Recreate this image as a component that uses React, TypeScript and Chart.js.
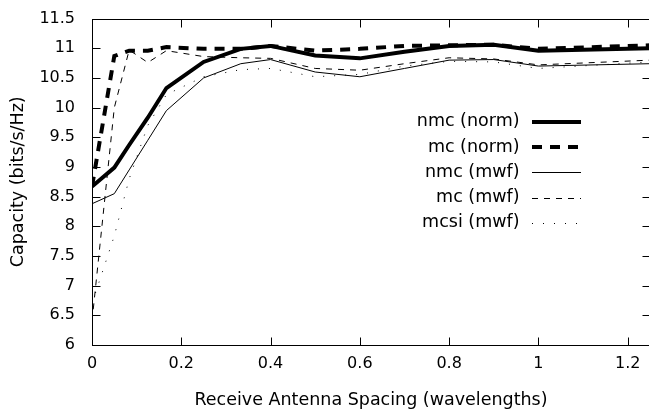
import React, { useEffect, useRef } from "react";
import { Chart, registerables } from "chart.js";

Chart.register(...registerables);

const xValues = [0, 0.05, 0.0833, 0.125, 0.1667, 0.25, 0.3333, 0.4, 0.5, 0.6, 0.7, 0.8, 0.9, 1.0, 1.25];
const nmcNorm = [8.67, 8.99, 9.37, 9.83, 10.33, 10.77, 10.99, 11.04, 10.88, 10.83, 10.94, 11.04, 11.06, 10.96, 11.0];
const mcNorm = [8.67, 10.87, 10.96, 10.96, 11.02, 10.99, 10.99, 11.04, 10.96, 10.99, 11.04, 11.05, 11.06, 10.99, 11.05];
const nmcMwf = [8.38, 8.55, 8.95, 9.45, 9.95, 10.5, 10.74, 10.81, 10.6, 10.52, 10.66, 10.8, 10.81, 10.7, 10.74];
const mcMwf = [6.4, 10.0, 10.97, 10.76, 10.96, 10.86, 10.84, 10.83, 10.66, 10.63, 10.74, 10.84, 10.82, 10.72, 10.8];
const mcsiMwf = [6.7, 7.84, 8.8, 9.7, 10.22, 10.52, 10.64, 10.66, 10.52, 10.56, 10.7, 10.78, 10.77, 10.66, 10.77];

const seriesLabels = ["nmc (norm)", "mc (norm)", "nmc (mwf)", "mc (mwf)", "mcsi (mwf)"];
const xTicks = [0, 0.2, 0.4, 0.6, 0.8, 1, 1.2];
const yTicks = [6, 6.5, 7, 7.5, 8, 8.5, 9, 9.5, 10, 10.5, 11, 11.5];
const xTitle = "Receive Antenna Spacing (wavelengths)";
const yTitle = "Capacity (bits/s/Hz)";

const FONT = "DejaVu Sans";

const styles = [
  { borderWidth: 4, borderDash: [] as number[] },
  { borderWidth: 4, borderDash: [10, 8] },
  { borderWidth: 1, borderDash: [] as number[] },
  { borderWidth: 1, borderDash: [6, 6] },
  { borderWidth: 1, borderDash: [1, 10] },
];

const frameAndLegend = {
  id: "frameAndLegend",
  afterDatasetsDraw(chart: any) {
    const { ctx, chartArea } = chart;
    const { left, right, top, bottom } = chartArea;
    const xs = chart.scales.x;
    const ys = chart.scales.y;
    ctx.save();
    ctx.strokeStyle = "#000";
    ctx.lineWidth = 1;
    ctx.setLineDash([]);
    const L = Math.round(left) + 0.5;
    const R = Math.round(right) + 0.5;
    const T = Math.round(top) + 0.5;
    const B = Math.round(bottom) + 0.5;
    ctx.strokeRect(L, T, R - L, B - T);
    const tl = 8;
    ctx.beginPath();
    xTicks.forEach((v) => {
      const px = Math.round(xs.getPixelForValue(v)) + 0.5;
      ctx.moveTo(px, B);
      ctx.lineTo(px, B - tl);
      ctx.moveTo(px, T);
      ctx.lineTo(px, T + tl);
    });
    yTicks.forEach((v) => {
      const py = Math.round(ys.getPixelForValue(v)) + 0.5;
      ctx.moveTo(L, py);
      ctx.lineTo(L + tl, py);
      ctx.moveTo(R, py);
      ctx.lineTo(R - tl, py);
    });
    ctx.stroke();

    // legend
    ctx.font = `17.5px "${FONT}"`;
    ctx.fillStyle = "#000";
    ctx.textAlign = "right";
    ctx.textBaseline = "middle";
    chart.data.datasets.forEach((ds: any, i: number) => {
      const y = 121.7 + i * 25.3;
      ctx.fillText(ds.label, 519.5, y);
      ctx.beginPath();
      ctx.lineWidth = ds.borderWidth;
      ctx.setLineDash(ds.borderDash || []);
      ctx.lineCap = "butt";
      const ly = ds.borderWidth % 2 === 1 ? Math.round(y) + 0.5 : Math.round(y);
      ctx.moveTo(532, ly);
      ctx.lineTo(581, ly);
      ctx.stroke();
    });
    ctx.restore();
  },
};

export default function App() {
  const ref = useRef<HTMLCanvasElement>(null);
  useEffect(() => {
    const seriesData = [nmcNorm, mcNorm, nmcMwf, mcMwf, mcsiMwf];
    const chart = new Chart(ref.current!, {
      type: "line",
      data: {
        datasets: seriesData.map((vals, i) => ({
          label: seriesLabels[i],
          data: xValues.map((x, j) => ({ x, y: vals[j] })),
          borderColor: "#000",
          borderWidth: styles[i].borderWidth,
          borderDash: styles[i].borderDash,
          pointRadius: 0,
          tension: 0,
          fill: false,
        })),
      },
      options: {
        animation: false,
        responsive: false,
        layout: { padding: { top: 12, right: 10, left: 0, bottom: 0 } },
        plugins: { legend: { display: false }, tooltip: { enabled: false } },
        scales: {
          x: {
            type: "linear",
            min: 0,
            max: 1.25,
            afterBuildTicks: (s: any) => {
              s.ticks = xTicks.map((v) => ({ value: v }));
            },
            afterFit: (s: any) => {
              s.height = 69;
            },
            ticks: {
              font: { family: FONT, size: 16 },
              color: "#000",
              padding: 1,
              maxRotation: 0,
              autoSkip: false,
              callback: (v: any) => String(v),
            },
            grid: { display: false },
            border: { display: false },
            title: {
              display: true,
              text: xTitle,
              font: { family: FONT, size: 17.5 },
              color: "#000",
              padding: { top: 0, bottom: 3 },
            },
          },
          y: {
            type: "linear",
            min: 6,
            max: 11.5,
            afterBuildTicks: (s: any) => {
              s.ticks = yTicks.map((v) => ({ value: v }));
            },
            afterFit: (s: any) => {
              s.width = 92;
            },
            ticks: {
              font: { family: FONT, size: 16 },
              color: "#000",
              padding: 9,
              autoSkip: false,
              callback: (v: any) => String(v),
            },
            grid: { display: false },
            border: { display: false },
            title: {
              display: true,
              text: yTitle,
              font: { family: FONT, size: 17.5 },
              color: "#000",
              padding: { top: 8, bottom: 0 },
            },
          },
        },
      },
      plugins: [frameAndLegend],
    });
    return () => chart.destroy();
  }, []);
  return (
    <div style={{ position: "fixed", left: 0, top: 0, width: 660, height: 414, background: "#fff" }}>
      <canvas ref={ref} width={660} height={414} />
    </div>
  );
}
